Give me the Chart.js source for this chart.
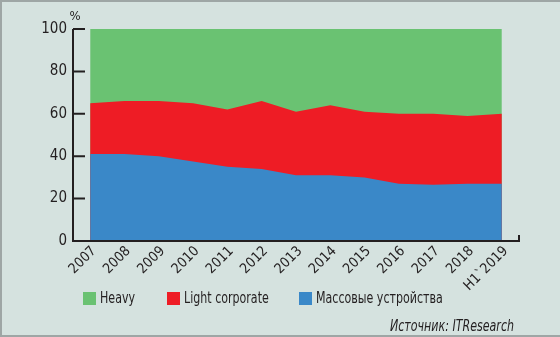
<!DOCTYPE html>
<html>
<head>
<meta charset="utf-8">
<script src="https://cdn.jsdelivr.net/npm/chart.js@4"></script>
<style>
  html, body { margin: 0; padding: 0; }
  body { width: 560px; height: 337px; overflow: hidden; }
  #frame {
    position: relative; width: 558px; height: 333px;
    background: #d5e2df; border: 2px solid #9ea6a5; border-right: none;
    font-family: "Liberation Sans Narrow", "DejaVu Sans Condensed", sans-serif;
    color: #231f20;
  }
  #chart { position: absolute; left: -2px; top: -2px; }
  .leg { position: absolute; top: 289px; font-size: 15px; line-height: 15px; white-space: nowrap; }
  .leg i { position: absolute; left: -17px; top: 1px; width: 13px; height: 13px; }
  .leg span { display: inline-block; transform: scaleX(0.82); transform-origin: left center; }
  #source { position: absolute; left: 388px; top: 315px; font-size: 15px; font-style: italic; white-space: nowrap;
            transform: scaleX(0.82); transform-origin: left center; }
</style>
</head>
<body>
<div id="frame">
  <canvas id="chart" width="560" height="337"></canvas>
  <div class="leg" style="left:98px"><i style="background:#6ac272"></i><span>Heavy</span></div>
  <div class="leg" style="left:182px"><i style="background:#ee1c25"></i><span>Light corporate</span></div>
  <div class="leg" style="left:314px"><i style="background:#3a88c8"></i><span>Массовые устройства</span></div>
  <div id="source">Источник: ITResearch</div>
</div>
<script>
// ===== Data (shares, %) =====
const years = ['2007', '2008', '2009', '2010', '2011', '2012', '2013', '2014', '2015', '2016', '2017', '2018', 'H1`2019'];
const massDevices = [41, 41, 40, 37.5, 35, 34, 31, 31, 30, 27, 26.5, 27, 27];
const lightCorporate = [24, 25, 26, 27.5, 27, 32, 30, 33, 31, 33, 33.5, 32, 33];
const heavy = [35, 34, 34, 35, 38, 34, 39, 36, 39, 40, 40, 41, 40];
const yTicks = [0, 20, 40, 60, 80, 100];

const FONT = '"Liberation Sans Narrow", "DejaVu Sans Condensed", sans-serif';

// ===== Axes drawn like the print original =====
const axesPlugin = {
  id: 'printAxes',
  afterDatasetsDraw(chart) {
    const { ctx, chartArea, scales } = chart;
    const y = scales.y;
    const left = chartArea.left, right = chartArea.right, bottom = chartArea.bottom;
    ctx.save();
    ctx.strokeStyle = '#231f20';
    ctx.lineWidth = 2;
    ctx.beginPath();
    ctx.moveTo(left, y.getPixelForValue(100));
    ctx.lineTo(left, bottom);
    ctx.lineTo(right, bottom);
    ctx.lineTo(right, bottom - 6);
    yTicks.forEach(v => {
      const py = y.getPixelForValue(v);
      ctx.moveTo(left, py);
      ctx.lineTo(left + 12, py);
    });
    ctx.stroke();
    ctx.fillStyle = '#231f20';
    ctx.font = '13px ' + FONT;
    ctx.textAlign = 'center';
    ctx.fillText('%', left + 2, y.getPixelForValue(100) - 9);
    ctx.restore();
  }
};

const ds = (label, data, color) => ({
  label, data,
  backgroundColor: color, borderColor: color, borderWidth: 0,
  fill: true, pointRadius: 0, tension: 0
});

new Chart(document.getElementById('chart'), {
  type: 'line',
  data: {
    labels: years,
    datasets: [
      ds('Массовые устройства', massDevices, '#3a88c8'),
      ds('Light corporate', lightCorporate, '#ee1c25'),
      ds('Heavy', heavy, '#6ac272')
    ]
  },
  options: {
    responsive: false, animation: false, devicePixelRatio: 1,
    layout: { padding: { top: 29, right: 41, left: 0, bottom: 0 } },
    plugins: { legend: { display: false }, tooltip: { enabled: false } },
    scales: {
      x: {
        offset: true,
        grid: { display: false, drawTicks: false }, border: { display: false },
        ticks: { color: '#231f20', font: { family: FONT, size: 14 }, minRotation: 45, maxRotation: 45,
                 padding: 2, labelOffset: 4, autoSkip: false },
        afterFit: s => { s.height = 96; }
      },
      y: {
        stacked: true, min: 0, max: 100,
        grid: { display: false, drawTicks: false }, border: { display: false },
        afterBuildTicks: s => { s.ticks = yTicks.map(v => ({ value: v })); },
        ticks: { color: '#231f20', font: { family: FONT, size: 15 }, padding: 6 },
        afterFit: s => { s.width = 73; }
      }
    }
  },
  plugins: [axesPlugin]
});
</script>
</body>
</html>
